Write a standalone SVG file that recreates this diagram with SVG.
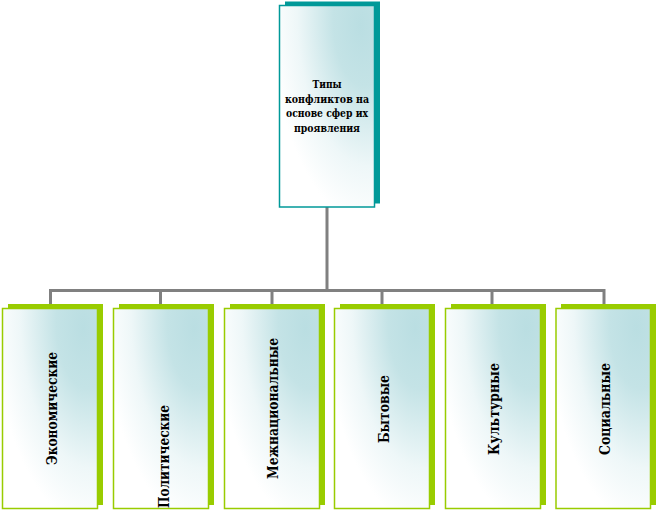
<svg xmlns="http://www.w3.org/2000/svg" width="658" height="513" viewBox="0 0 658 513">
  <defs>
    <radialGradient id="fillGrad" cx="1" cy="0" r="1.1" fx="0.85" fy="0.1">
      <stop offset="0" stop-color="#BADEE2"/>
      <stop offset="0.3" stop-color="#C4E3E6"/>
      <stop offset="0.7" stop-color="#EEF7F8"/>
      <stop offset="1" stop-color="#FFFFFF"/>
    </radialGradient>
  </defs>
  <style>
    .shadowT { fill: #009999; }
    .mainT { fill: url(#fillGrad); stroke: #009999; stroke-width: 1.5; }
    .shadowG { fill: #99CC00; }
    .mainG { fill: url(#fillGrad); stroke: #99CC00; stroke-width: 1.5; }
    .conn { stroke: #808080; stroke-width: 3; fill: none; }
    .top { font-family: "DejaVu Serif", "Liberation Serif", serif; font-weight: bold; font-size: 10.5px; fill: #000; text-anchor: middle; }
    .lbl { font-family: "DejaVu Serif", "Liberation Serif", serif; font-weight: bold; font-size: 15px; fill: #000; text-anchor: middle; }
  </style>
  <rect width="658" height="513" fill="#FFFFFF"/>

  <g id="connectors">
    <path class="conn" d="M327,207 V290.5 M50.5,290.5 H604 M50.5,289 V304 M160.5,289 V304 M272,289 V304 M382,289 V304 M492,289 V304 M604,289 V304"/>
  </g>

  <g id="root">
    <rect class="shadowT" x="285" y="1.5" width="95" height="202"/>
    <rect class="mainT" x="279.5" y="5.5" width="95" height="201.5"/>
    <text class="top" x="327" y="88" textLength="29" lengthAdjust="spacingAndGlyphs">Типы</text>
    <text class="top" x="327" y="102.5" textLength="84" lengthAdjust="spacingAndGlyphs">конфликтов на</text>
    <text class="top" x="327" y="117" textLength="82" lengthAdjust="spacingAndGlyphs">основе сфер их</text>
    <text class="top" x="327" y="132" textLength="66" lengthAdjust="spacingAndGlyphs">проявления</text>
  </g>

  <g id="n1">
    <rect class="shadowG" x="8" y="304" width="95" height="201"/>
    <rect class="mainG" x="2.5" y="308.5" width="95" height="200"/>
    <text class="lbl" transform="translate(57,408.5) rotate(-90)" textLength="113" lengthAdjust="spacingAndGlyphs">Экономические</text>
  </g>
  <g id="n2">
    <rect class="shadowG" x="119" y="304" width="95" height="201"/>
    <rect class="mainG" x="113.5" y="308.5" width="95" height="200"/>
    <text class="lbl" transform="translate(169,456.5) rotate(-90)" textLength="103" lengthAdjust="spacingAndGlyphs">Политические</text>
  </g>
  <g id="n3">
    <rect class="shadowG" x="230" y="304" width="95" height="201"/>
    <rect class="mainG" x="224.5" y="308.5" width="95" height="200"/>
    <text class="lbl" transform="translate(278,408.5) rotate(-90)" textLength="141" lengthAdjust="spacingAndGlyphs">Межнациональные</text>
  </g>
  <g id="n4">
    <rect class="shadowG" x="340" y="304" width="95" height="201"/>
    <rect class="mainG" x="334.5" y="308.5" width="95" height="200"/>
    <text class="lbl" transform="translate(389,409) rotate(-90)" textLength="68" lengthAdjust="spacingAndGlyphs">Бытовые</text>
  </g>
  <g id="n5">
    <rect class="shadowG" x="451" y="304" width="95" height="201"/>
    <rect class="mainG" x="445.5" y="308.5" width="95" height="200"/>
    <text class="lbl" transform="translate(499,409) rotate(-90)" textLength="92" lengthAdjust="spacingAndGlyphs">Культурные</text>
  </g>
  <g id="n6">
    <rect class="shadowG" x="561" y="304" width="95" height="201"/>
    <rect class="mainG" x="556" y="308.5" width="94.5" height="200"/>
    <text class="lbl" transform="translate(610,409) rotate(-90)" textLength="92" lengthAdjust="spacingAndGlyphs">Социальные</text>
  </g>
</svg>
